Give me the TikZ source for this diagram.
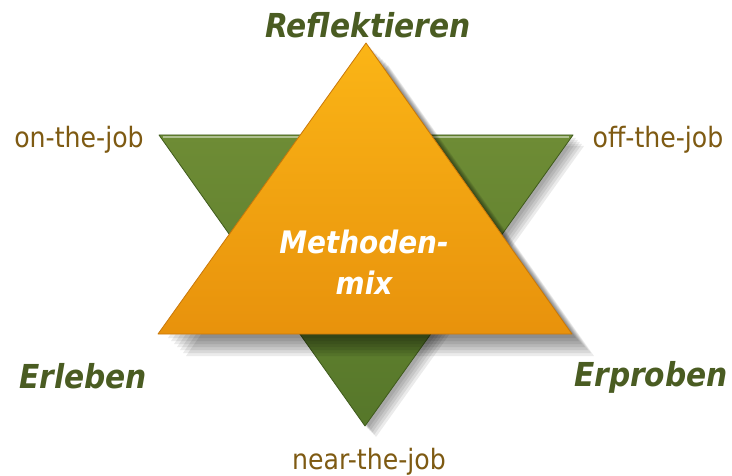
\documentclass[tikz,border=0pt]{standalone}
\usepackage{fontspec}
\setmainfont{DejaVu Sans}[FakeStretch=0.9]
\usepackage{tikz}

\definecolor{orangeTop}{HTML}{FBB516}
\definecolor{orangeBot}{HTML}{E8920C}
\definecolor{orangeEdge}{HTML}{C9780A}
\definecolor{greenTop}{HTML}{6E8C35}
\definecolor{greenBot}{HTML}{56772A}
\definecolor{greenEdge}{HTML}{3F5A1C}
\definecolor{aspectText}{HTML}{4A5C22}
\definecolor{jobText}{HTML}{7E5A12}

\tikzset{
  aspect/.style={text=aspectText, font=\fontsize{33}{36}\selectfont\bfseries\itshape},
  joblabel/.style={text=jobText, font=\fontsize{28}{32}\selectfont},
  centre/.style={text=white, font=\fontsize{31}{36}\selectfont\bfseries\itshape, align=center},
  softshadow/.style={fill=black, opacity=0.08}
}

\begin{document}
\begin{tikzpicture}[x=1pt,y=-1pt]
\useasboundingbox[fill=white] (0,0) rectangle (732,476);
% corners of the two triangles
\coordinate (gl) at (159,135);
\coordinate (gr) at (573,135);
\coordinate (gb) at (365,426);
\coordinate (ot) at (366,43);
\coordinate (ol) at (158,334);
\coordinate (or) at (572,334);
% green triangle, pointing down
\foreach \d in {3,5,7,9,11}
  \fill[softshadow] ([shift={(\d,\d)}]gl) -- ([shift={(\d,\d)}]gr) -- ([shift={(\d,\d)}]gb) -- cycle;
\shade[top color=greenTop, bottom color=greenBot, draw=greenEdge, line width=0.8pt, line join=round]
  (gl) -- (gr) -- (gb) -- cycle;
\draw[greenTop!55!white, line width=1.5pt] ([shift={(4,2)}]gl) -- ([shift={(-4,2)}]gr);
% orange triangle, pointing up
\foreach \d in {4,7,10,13,16,19,22}
  \fill[softshadow] ([shift={(\d,\d)}]ot) -- ([shift={(\d,\d)}]or) -- ([shift={(\d+6,\d)}]ol) -- cycle;
\shade[top color=orangeTop, bottom color=orangeBot, draw=orangeEdge, line width=0.8pt, line join=round]
  (ot) -- (or) -- (ol) -- cycle;
% labels
\node[aspect] (reflektieren) at (368,25) {Reflektieren};
\node[aspect] (erleben) at (83,376) {Erleben};
\node[aspect] (erproben) at (651,377) {Erproben};
\node[joblabel] (onjob) at (79,140) {on-the-job};
\node[joblabel] (offjob) at (658,140) {off-the-job};
\node[joblabel] (nearjob) at (369,462) {near-the-job};
\node[centre] (methoden) at (364,242) {Methoden-};
\node[centre] (mix) at (364,283) {mix};
\end{tikzpicture}
\end{document}
